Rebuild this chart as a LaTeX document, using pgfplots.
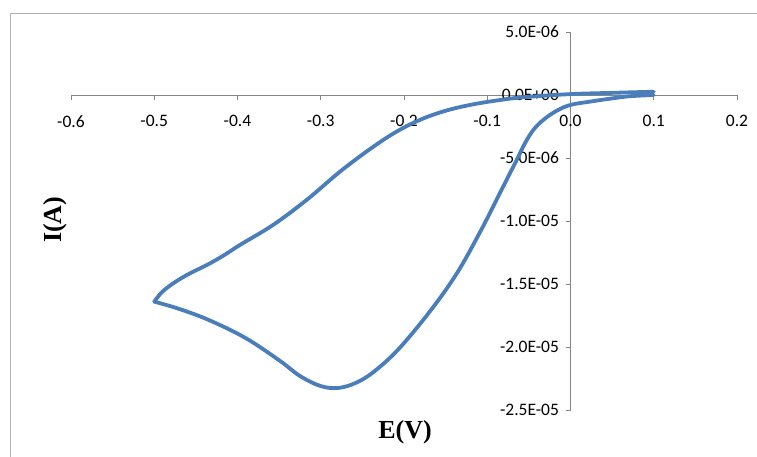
\documentclass[border=0pt]{standalone}
\usepackage{fontspec}
\setmainfont{Carlito}
\newfontfamily\titlefont{Liberation Serif}
\usepackage{pgfplots}
\pgfplotsset{compat=1.18}
\definecolor{cvblue}{RGB}{74,126,187}
\definecolor{axgray}{RGB}{134,134,134}
\begin{document}
\begin{tikzpicture}[x=1pt,y=1pt]
\useasboundingbox (0,0) rectangle (757,457);
\clip (0,0) rectangle (757,457);
\draw[gray!60, line width=1pt] (10.6,443.7) rectangle (800,-50);
\begin{axis}[
  scale only axis, width=666pt, height=378pt,
  at={(71pt,47pt)}, anchor=south west,
  axis lines=middle, axis line style={-, draw=axgray, line width=0.9pt},
  xmin=-0.6, xmax=0.2, ymin=-25, ymax=5,
  xtick={-0.6,-0.5,-0.4,-0.3,-0.2,-0.1,0,0.1,0.2},
  xticklabels={-0.6,-0.5,-0.4,-0.3,-0.2,-0.1,0.0,0.1,0.2},
  ytick={-25,-20,-15,-10,-5,0,5},
  yticklabels={-2.5E-05,-2.0E-05,-1.5E-05,-1.0E-05,-5.0E-06,0.0E+00,5.0E-06},
  hide obscured x ticks=false, hide obscured y ticks=false,
  tick align=outside, major tick length=5pt,
  tick style={draw=axgray, line width=0.9pt},
  xticklabel style={font=\fontsize{17.5}{20}\selectfont, anchor=north, yshift=-12pt},
  yticklabel style={font=\fontsize{17.5}{20}\selectfont, anchor=east, xshift=-3pt},
  xlabel={\titlefont\bfseries E(V)}, ylabel={\titlefont\bfseries I(A)},
  xlabel style={font=\fontsize{26}{30}\selectfont, at={(axis description cs:0.5015,-0.058)}, anchor=center},
  ylabel style={font=\fontsize{26}{30}\selectfont, at={(axis description cs:-0.024,0.503)}, anchor=center, rotate=90},
  clip=false,
]
\addplot[cvblue, line width=3.8pt, smooth, tension=0.6, line cap=round, line join=round] coordinates {
(0.100,0.00) (0.071,-0.10) (0.050,-0.27) (0.023,-0.53) (0.000,-0.79)
(-0.0166,-1.25) (-0.0327,-1.98) (-0.0447,-2.78) (-0.0547,-3.83) (-0.0627,-4.90)
(-0.0727,-6.21) (-0.088,-8.2) (-0.108,-10.8) (-0.136,-14.1) (-0.168,-17.1)
(-0.207,-20.2) (-0.237,-22.0) (-0.258,-22.85) (-0.279,-23.25) (-0.300,-23.1)
(-0.325,-22.3) (-0.349,-21.1) (-0.390,-19.3) (-0.433,-17.9) (-0.469,-17.0)
(-0.500,-16.4)
};
\addplot[cvblue, line width=3.8pt, smooth, tension=0.6, line cap=round, line join=round] coordinates {
(-0.500,-16.4) (-0.490,-15.6) (-0.475,-14.85) (-0.457,-14.15) (-0.437,-13.5)
(-0.417,-12.75) (-0.397,-11.9) (-0.357,-10.3) (-0.317,-8.33) (-0.277,-6.09)
(-0.241,-4.30) (-0.210,-2.95) (-0.180,-1.95) (-0.150,-1.25) (-0.120,-0.78)
(-0.090,-0.45) (-0.057,-0.18) (0.000,0.07) (0.050,0.17) (0.100,0.26)
};
\end{axis}
\end{tikzpicture}
\end{document}
